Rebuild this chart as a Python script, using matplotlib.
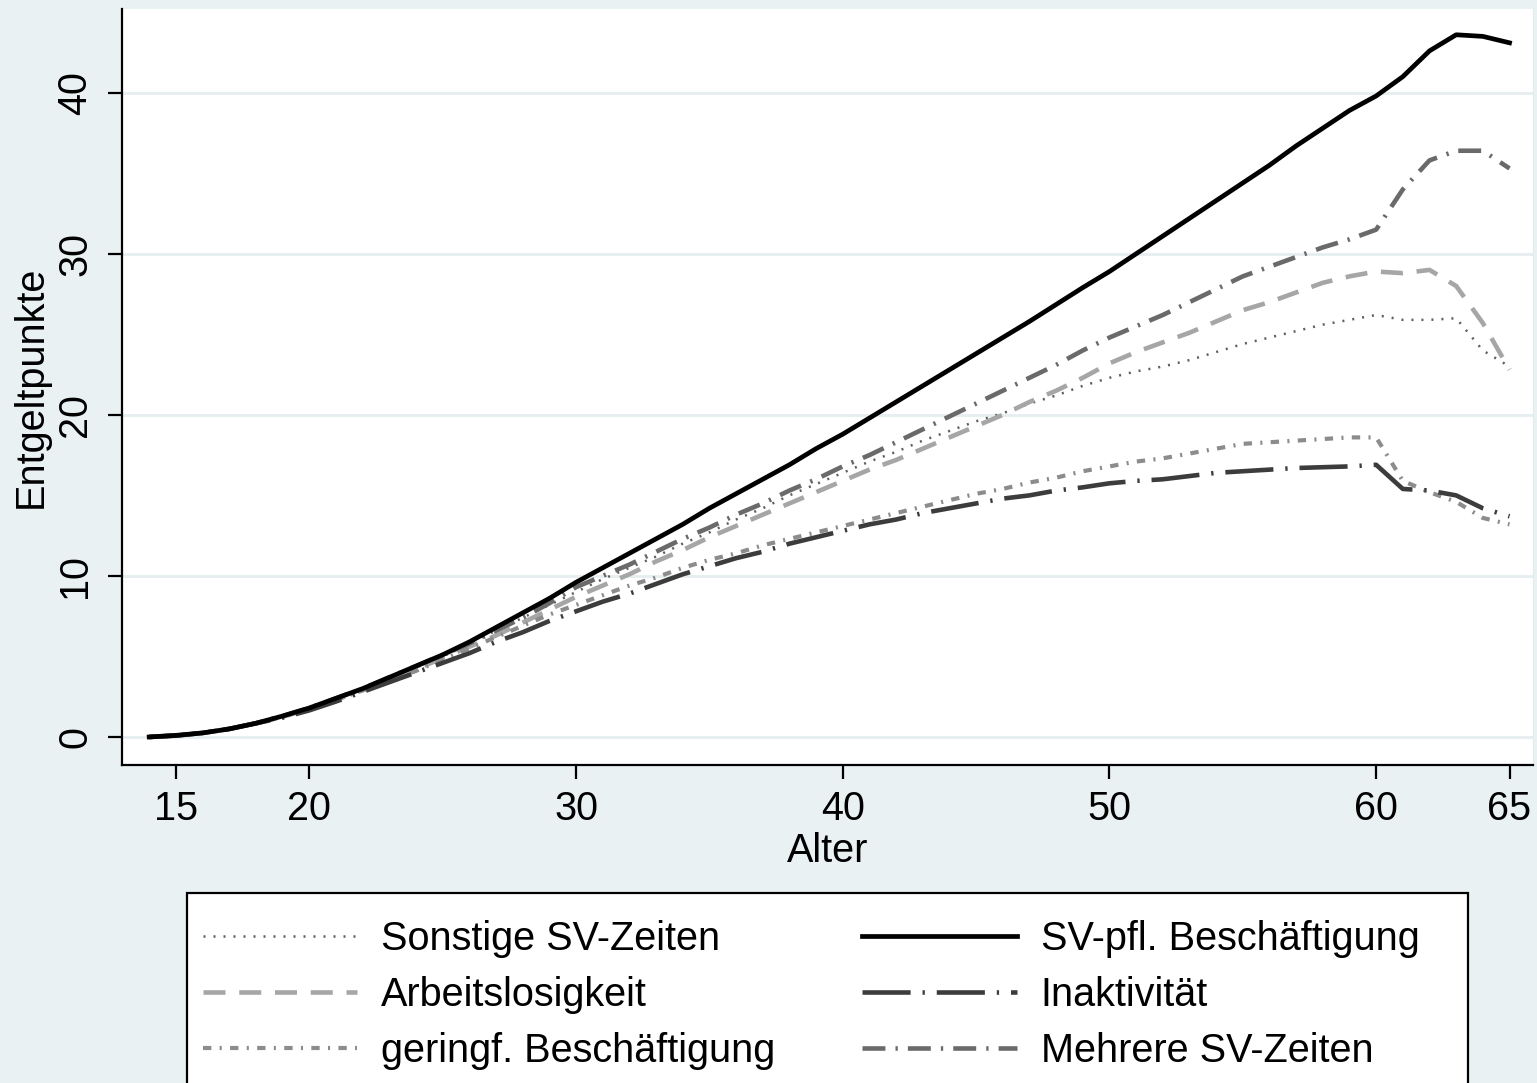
import matplotlib
matplotlib.use("Agg")
import matplotlib.pyplot as plt
from matplotlib.patches import Rectangle
import numpy as np

plt.rcParams['font.family'] = ['Liberation Sans', 'DejaVu Sans']

# Alter 14..65
alter = np.arange(14, 66)

sonstige = [0, 0.08, 0.25, 0.5, 0.85, 1.25, 1.75, 2.35, 2.95, 3.6, 4.3, 5.0,
            5.8, 6.6, 7.4, 8.2, 9.0, 9.8, 10.5, 11.2, 12.0, 12.7, 13.5, 14.2,
            15.0, 15.7, 16.4, 17.1, 17.7, 18.4, 19.0, 19.6, 20.1, 20.7, 21.2,
            21.8, 22.3, 22.7, 23.0, 23.4, 23.9, 24.4, 24.8, 25.2, 25.6, 25.9,
            26.2, 25.9, 25.9, 26.0, 24.0, 23.0]
arbeitslos = [0, 0.08, 0.25, 0.5, 0.85, 1.25, 1.75, 2.3, 2.9, 3.55, 4.2, 4.9,
              5.6, 6.3, 7.1, 7.9, 8.7, 9.4, 10.1, 10.9, 11.6, 12.4, 13.1, 13.8,
              14.5, 15.2, 15.9, 16.6, 17.2, 17.9, 18.6, 19.3, 20.0, 20.8, 21.5,
              22.3, 23.2, 23.9, 24.5, 25.1, 25.8, 26.5, 27.0, 27.6, 28.2, 28.6,
              28.9, 28.8, 29.0, 28.0, 25.7, 22.8]
geringf = [0, 0.08, 0.25, 0.5, 0.85, 1.25, 1.7, 2.3, 2.9, 3.5, 4.1, 4.8,
           5.5, 6.2, 6.9, 7.6, 8.2, 8.8, 9.4, 9.9, 10.5, 11.0, 11.4, 11.9,
           12.3, 12.7, 13.1, 13.5, 13.9, 14.3, 14.7, 15.1, 15.4, 15.8, 16.1,
           16.5, 16.8, 17.1, 17.3, 17.6, 17.9, 18.2, 18.3, 18.4, 18.5, 18.6,
           18.6, 15.9, 15.2, 14.6, 13.6, 13.2]
sv_pfl = [0, 0.1, 0.25, 0.5, 0.85, 1.3, 1.8, 2.4, 3.0, 3.7, 4.4, 5.1,
          5.9, 6.8, 7.7, 8.6, 9.6, 10.5, 11.4, 12.3, 13.2, 14.2, 15.1, 16.0,
          16.9, 17.9, 18.8, 19.8, 20.8, 21.8, 22.8, 23.8, 24.8, 25.8, 26.85,
          27.9, 28.9, 30.0, 31.1, 32.2, 33.3, 34.4, 35.5, 36.7, 37.8, 38.9,
          39.8, 41.0, 42.6, 43.6, 43.5, 43.1]
inaktiv = [0, 0.08, 0.25, 0.5, 0.85, 1.2, 1.65, 2.2, 2.8, 3.4, 4.0, 4.6,
           5.2, 5.9, 6.5, 7.2, 7.8, 8.4, 8.9, 9.5, 10.1, 10.6, 11.1, 11.5,
           12.0, 12.4, 12.8, 13.2, 13.5, 13.9, 14.2, 14.5, 14.8, 15.0, 15.3,
           15.5, 15.75, 15.9, 16.0, 16.2, 16.4, 16.5, 16.6, 16.7, 16.75, 16.8,
           16.9, 15.4, 15.3, 15.0, 14.2, 13.7]
mehrere = [0, 0.1, 0.25, 0.5, 0.85, 1.3, 1.8, 2.4, 3.0, 3.7, 4.4, 5.1,
           5.8, 6.6, 7.4, 8.3, 9.3, 10.0, 10.7, 11.5, 12.3, 13.0, 13.8, 14.5,
           15.3, 16.0, 16.8, 17.5, 18.3, 19.1, 19.9, 20.7, 21.5, 22.3, 23.1,
           24.0, 24.8, 25.5, 26.2, 27.0, 27.8, 28.6, 29.2, 29.8, 30.4, 30.9,
           31.5, 34.0, 35.8, 36.4, 36.4, 35.3]

fs = 28.5

fig = plt.figure(figsize=(15.37, 10.83), dpi=100, facecolor='#eaf1f3')
ax = fig.add_axes([122/1537, 1-765/1083, (1533-122)/1537, (765-9)/1083])
ax.set_facecolor('white')

l1, = ax.plot(alter, sonstige, color='#5e5e5e', lw=1.8, dashes=(0.8, 3.2),
              label='Sonstige SV-Zeiten')
l2, = ax.plot(alter, arbeitslos, color='#a6a6a6', lw=3.3, dashes=(4.8, 3.0),
              label='Arbeitslosigkeit')
l3, = ax.plot(alter, geringf, color='#8c8c8c', lw=3.0, dashes=(2.0, 2.0, 0.5, 2.0),
              label='geringf. Beschäftigung')
l5, = ax.plot(alter, inaktiv, color='#3c3c3c', lw=3.3, dashes=(10.5, 2.6, 0.5, 2.6),
              label='Inaktivität')
l6, = ax.plot(alter, mehrere, color='#6a6a6a', lw=3.3, dashes=(5.0, 2.2, 0.5, 2.2),
              label='Mehrere SV-Zeiten')
l4, = ax.plot(alter, sv_pfl, color='black', lw=3.4, label='SV-pfl. Beschäftigung')

ax.set_xlim(12.98, 65.88)
ax.set_ylim(-1.74, 45.2)
ax.set_xticks([15, 20, 30, 40, 50, 60, 65])
ax.set_yticks([0, 10, 20, 30, 40])
ax.yaxis.grid(True, color='#e6eef0', lw=2)
ax.set_axisbelow(True)

ax.spines['top'].set_visible(False)
ax.spines['right'].set_color('#e3ebee')
ax.spines['left'].set_linewidth(1.6)
ax.spines['bottom'].set_linewidth(1.6)

ax.tick_params(axis='both', labelsize=fs, length=10, width=1.6, direction='out')
ax.tick_params(axis='x', pad=8)
ax.tick_params(axis='y', pad=10)
for t in ax.get_yticklabels():
    t.set_rotation(90)
    t.set_va('center')

ax.set_xlabel('Alter', fontsize=fs, labelpad=3)
ax.set_ylabel('Entgeltpunkte', fontsize=fs, labelpad=5)

# Legendenrahmen (wie im Original, unten abgeschnitten)
fig.patches.append(Rectangle((187/1537, -0.02), (1468-187)/1537, 0.02+1-893/1083,
                             transform=fig.transFigure, facecolor='white',
                             edgecolor='black', lw=1.6, zorder=0))

handles = [l1, l2, l3, l4, l5, l6]
leg = fig.legend(handles=handles, labels=[h.get_label() for h in handles],
                 ncol=2, loc='upper left', bbox_to_anchor=(203/1537, 1-920/1083),
                 fontsize=fs, handlelength=3.9, handletextpad=0.6,
                 columnspacing=2.2, labelspacing=0.45, borderpad=0,
                 borderaxespad=0, frameon=False)

fig.savefig('out.png', dpi=100, facecolor=fig.get_facecolor())
